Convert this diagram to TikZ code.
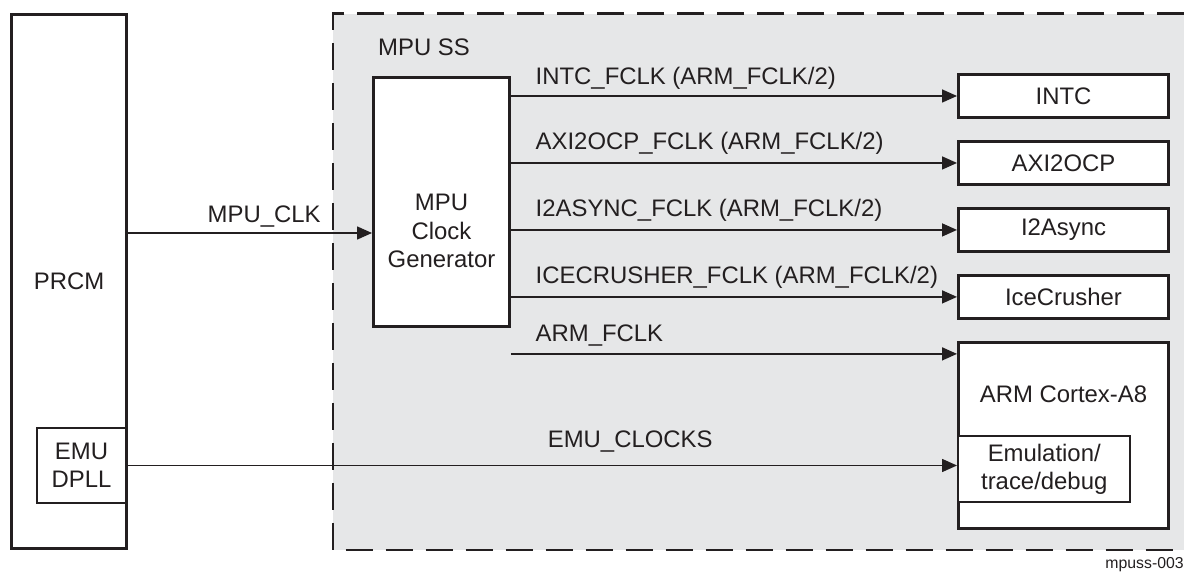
\documentclass[tikz,border=0pt]{standalone}
\usepackage{fontspec}
\setmainfont{Liberation Sans}
\usetikzlibrary{positioning, arrows.meta}

\definecolor{ssgray}{HTML}{E6E7E8}
\definecolor{ink}{HTML}{231F20}

\begin{document}
\begin{tikzpicture}[x=0.02cm, y=-0.02cm, node distance=0.42cm,
    every node/.style={text=ink, font=\fontsize{13.6}{16}\selectfont},
    blk/.style={draw=ink, line width=1.7pt, fill=white, align=center, inner sep=0pt},
    outblk/.style={blk, minimum width=4.2cm, minimum height=0.86cm},
    conn/.style={draw=ink, line width=0.85pt, -{Triangle[length=0.3cm, width=0.26cm]}},
    lbl/.style={anchor=base west, inner sep=0pt}]

    \useasboundingbox (0,0) rectangle (1184,573);

    % MPU subsystem area
    \fill[ssgray] (333,14) rectangle (1184,550);
    \draw[ink, line width=1.7pt, dash pattern=on 0.54cm off 0.26cm]
        (1184,14) -- (333,14) -- (333,550) -- (1184,550);
    \node[anchor=west] (ss) at (372,47) {MPU SS};

    % PRCM side
    \node[blk, minimum width=2.3cm, minimum height=10.68cm] (prcm) at (69,281.5) {PRCM};
    \node[blk, line width=1.4pt, minimum width=1.78cm, minimum height=1.5cm] (emu) at (81.5,465.5) {EMU\\DPLL};

    % clock generator
    \node[blk, minimum width=2.72cm, minimum height=4.98cm,
          label={[align=center, yshift=-0.58cm]center:MPU\\Clock\\Generator}] (gen) at (441.5,202) {};

    % destination blocks
    \node[outblk] (intc) at (1063.5,96) {INTC};
    \node[outblk, below=of intc] (axi) {AXI2OCP};
    \node[outblk, below=of axi] (async) {I2Async};
    \node[outblk, below=of async] (ice) {IceCrusher};
    \node[blk, minimum width=4.2cm, minimum height=3.72cm, below=of ice,
          label={[anchor=center, yshift=-1.06cm]north:ARM Cortex-A8}] (arm) {};
    \node[blk, line width=1.4pt, minimum width=3.44cm, minimum height=1.32cm, anchor=north west]
        (emul) at ([yshift=-1.88cm]arm.north west) {Emulation/\\trace/debug};

    \coordinate (clkin) at ([xshift=-0.06cm, yshift=0.97cm]prcm.east);
    \coordinate (armin) at ([yshift=-0.26cm]arm.north west);

    % clocks
    \path[every edge/.style={conn}]
    (clkin) edge node[lbl, pos=0, xshift=1.64cm, yshift=0.22cm] {MPU\_CLK} (gen.west |- clkin)
    (gen.east |- intc) edge node[lbl, pos=0, xshift=0.48cm, yshift=0.22cm] {INTC\_FCLK (ARM\_FCLK/2)} (intc)
    (gen.east |- axi) edge node[lbl, pos=0, xshift=0.48cm, yshift=0.26cm] {AXI2OCP\_FCLK (ARM\_FCLK/2)} (axi)
    (gen.east |- async) edge node[lbl, pos=0, xshift=0.48cm, yshift=0.26cm] {I2ASYNC\_FCLK (ARM\_FCLK/2)} (async)
    (gen.east |- ice) edge node[lbl, pos=0, xshift=0.48cm, yshift=0.26cm] {ICECRUSHER\_FCLK (ARM\_FCLK/2)} (ice)
    (gen.east |- armin) edge node[lbl, pos=0, xshift=0.48cm, yshift=0.24cm] {ARM\_FCLK} (armin)
    (emu.east) edge node[lbl, pos=0, xshift=8.4cm, yshift=0.36cm] {EMU\_CLOCKS} (emu.east -| emul.west);

    \node[anchor=south east, inner sep=0pt, font=\fontsize{9}{10}\selectfont] (tag) at (1184,572) {mpuss-003};
\end{tikzpicture}
\end{document}
